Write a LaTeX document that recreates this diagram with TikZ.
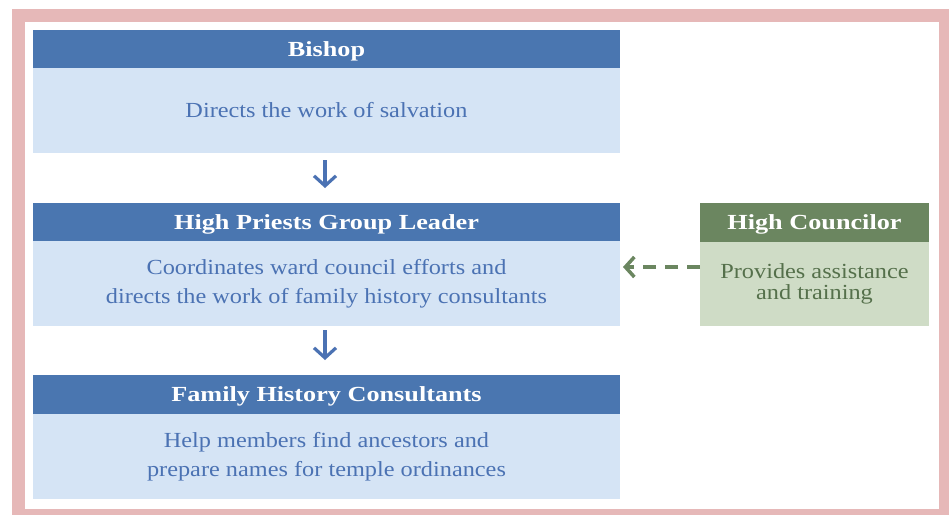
\documentclass[tikz,border=0pt]{standalone}
\usepackage{fontspec}
\setmainfont{Liberation Serif}[FakeStretch=1.13, BoldFeatures={FakeStretch=1.22}]
\usetikzlibrary{arrows.meta}
\definecolor{framepink}{HTML}{E6B8B8}
\definecolor{hdrblue}{HTML}{4A76B0}
\definecolor{bodyblue}{HTML}{D5E4F5}
\definecolor{txtblue}{HTML}{4B72B3}
\definecolor{hdrgreen}{HTML}{6B8660}
\definecolor{bodygreen}{HTML}{CFDCC6}
\definecolor{txtgreen}{HTML}{55704B}
\begin{document}
\begin{tikzpicture}[x=1pt,y=-1pt,
  box/.style={inner sep=0pt, outer sep=0pt, anchor=north west, align=center},
  hdr/.style={box, fill=hdrblue, text=white, minimum width=587pt, minimum height=38pt,
    text height=16pt, text depth=2pt, font=\bfseries\fontsize{21.5}{24}\selectfont},
  bdy/.style={box, fill=bodyblue, text=txtblue, minimum width=587pt, minimum height=85pt,
    font=\fontsize{21.5}{29}\selectfont},
  ghdr/.style={box, fill=hdrgreen, text=white, minimum width=229pt, minimum height=39pt,
    text height=16pt, text depth=2pt, font=\bfseries\fontsize{21.5}{24}\selectfont},
  gbdy/.style={box, fill=bodygreen, text=txtgreen, minimum width=229pt, minimum height=84pt,
    font=\fontsize{21.5}{21}\selectfont},
  downarr/.style={draw=txtblue, line width=3.2pt, -{Straight Barb[length=10pt,width=22pt]}},
  dasharr/.style={draw=hdrgreen, line width=3.5pt, dash pattern=on 13pt off 9pt,
    -{Straight Barb[length=9pt,width=20pt]}}
]
\useasboundingbox (0,0) rectangle (949,514);
\clip (0,0) rectangle (949,514);
\fill[white] (0,0) rectangle (949,514);
\draw[framepink, line width=13pt] (18.5,15.5) rectangle (945.5,515.5);

\node[hdr] (bh) at (33,30) {Bishop};
\node[bdy] (bb) at (33,68) {Directs the work of salvation};

\node[hdr] (hh) at (33,203) {High Priests Group Leader};
\node[bdy] (hb) at (33,241) {Coordinates ward council efforts and\\directs the work of family history consultants};

\node[hdr, minimum height=39pt] (fh) at (33,375) {Family History Consultants};
\node[bdy] (fb) at (33,414) {Help members find ancestors and\\prepare names for temple ordinances};

\node[ghdr] (ch) at (700,203) {High Councilor};
\node[gbdy] (cb) at (700,242) {Provides assistance\\and training};

\draw[downarr, shorten <=7pt, shorten >=15pt] ([xshift=-1.5pt]bb.south) -- ([xshift=-1.5pt]hh.north);
\draw[downarr, shorten <=4pt, shorten >=15pt] ([xshift=-1.5pt]hb.south) -- ([xshift=-1.5pt]fh.north);
\draw[dasharr, shorten >=3pt] ([yshift=17pt]cb.west) -- ([yshift=17pt]cb.west -| hb.east);
\end{tikzpicture}
\end{document}
